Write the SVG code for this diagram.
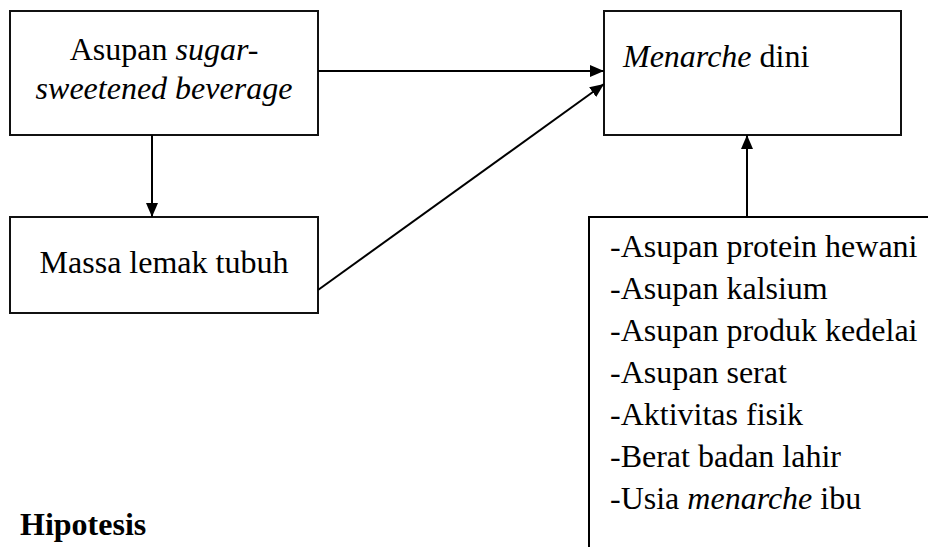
<svg xmlns="http://www.w3.org/2000/svg" width="928" height="547" viewBox="0 0 928 547" font-family="'Liberation Serif', 'Times New Roman', serif">
<style>
.box{fill:#fff;stroke:#111;stroke-width:2}
.c{stroke:#000;stroke-width:2;fill:none}
text{font-family:'Liberation Serif','Times New Roman',serif;font-size:32px;fill:#000}
</style>
<defs>
<marker id="ah" viewBox="0 0 14 12" refX="14" refY="6" markerWidth="14" markerHeight="12" markerUnits="userSpaceOnUse" orient="auto">
<path d="M0,0 L14,6 L0,12 Z" fill="#000"/>
</marker>
</defs>
<rect width="928" height="547" fill="#fff"/>
<g id="n-ssb">
<rect class="box" x="10" y="11" width="308" height="124"/>
<text x="164" y="60" style="font-family:'Liberation Serif',serif" text-anchor="middle">Asupan <tspan font-style="italic">sugar-</tspan></text>
<text x="164" y="99" style="font-family:'Liberation Serif',serif" text-anchor="middle" font-style="italic">sweetened beverage</text>
</g>
<g id="n-menarche">
<rect class="box" x="604" y="11" width="297" height="124"/>
<text x="623" y="67" style="font-family:'Liberation Serif',serif"><tspan font-style="italic">Menarche</tspan> dini</text>
</g>
<g id="n-massa">
<rect class="box" x="10" y="217" width="308" height="96"/>
<text x="164" y="273" style="font-family:'Liberation Serif',serif" text-anchor="middle">Massa lemak tubuh</text>
</g>
<g id="n-faktor">
<path class="c" d="M589,547 L589,217 L928,217"/>
<text x="610" y="257" style="font-family:'Liberation Serif',serif">-Asupan protein hewani</text>
<text x="610" y="299" style="font-family:'Liberation Serif',serif">-Asupan kalsium</text>
<text x="610" y="341" style="font-family:'Liberation Serif',serif">-Asupan produk kedelai</text>
<text x="610" y="383" style="font-family:'Liberation Serif',serif">-Asupan serat</text>
<text x="610" y="425" style="font-family:'Liberation Serif',serif">-Aktivitas fisik</text>
<text x="610" y="467" style="font-family:'Liberation Serif',serif">-Berat badan lahir</text>
<text x="610" y="509" style="font-family:'Liberation Serif',serif">-Usia <tspan font-style="italic">menarche</tspan> ibu</text>
</g>
<g id="heading">
<text x="20" y="535" style="font-family:'Liberation Serif',serif" font-weight="bold">Hipotesis</text>
</g>
<g id="connectors">
<line class="c" x1="318" y1="71" x2="604" y2="71" marker-end="url(#ah)"/>
<line class="c" x1="318" y1="290" x2="604" y2="84" marker-end="url(#ah)"/>
<line class="c" x1="152" y1="135" x2="152" y2="217" marker-end="url(#ah)"/>
<line class="c" x1="747" y1="217" x2="747" y2="135" marker-end="url(#ah)"/>
</g>
</svg>
